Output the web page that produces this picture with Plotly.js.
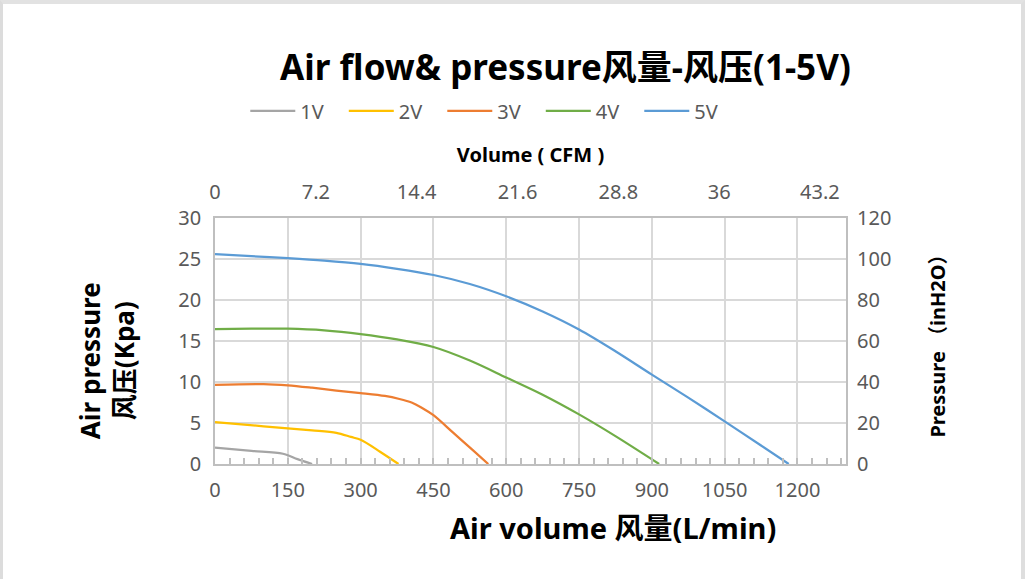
<!DOCTYPE html>
<html>
<head>
<meta charset="utf-8">
<script src="https://cdn.plot.ly/plotly-3.0.1.min.js"></script>
<style>
  html, body { margin: 0; padding: 0; background: #fff; }
  #wrap { position: relative; width: 1025px; height: 579px; }
  #frame { position: absolute; left: 0; top: 0; width: 1025px; height: 579px; box-sizing: border-box;
           border-top: 4px solid #e2e2e2; border-left: 3px solid #dcdcdc; border-right: 4px solid #dedede;
           pointer-events: none; }
</style>
</head>
<body>
<div id="wrap">
  <div id="chart" style="width:1025px;height:579px;"></div>
  <div id="frame"></div>
</div>
<script>
// Air volume (L/min) and pressure (kPa) per supply voltage
const seriesNames = ["1V", "2V", "3V", "4V", "5V"];
const flow1V = [0, 75, 140, 170, 200];
const pres1V = [2.0, 1.6, 1.25, 0.6, 0];
const flow2V = [0, 100, 150, 200, 250, 280, 300, 340, 378];
const pres2V = [5.1, 4.6, 4.35, 4.1, 3.8, 3.3, 2.95, 1.5, 0];
const flow3V = [0, 100, 150, 200, 250, 300, 350, 380, 405, 425, 450, 490, 530, 563];
const pres3V = [9.65, 9.75, 9.6, 9.3, 8.95, 8.65, 8.3, 7.93, 7.5, 6.9, 5.95, 3.85, 1.75, 0];
const flow4V = [0, 75, 150, 225, 300, 375, 450, 525, 600, 675, 750, 825, 915];
const pres4V = [16.45, 16.5, 16.5, 16.3, 15.85, 15.2, 14.27, 12.62, 10.55, 8.45, 6.05, 3.4, 0];
const flow5V = [0, 75, 150, 225, 300, 375, 450, 525, 600, 675, 750, 825, 900, 975, 1050, 1125, 1182];
const pres5V = [25.6, 25.35, 25.1, 24.8, 24.4, 23.8, 23.05, 21.95, 20.45, 18.6, 16.4, 13.75, 10.9, 8.1, 5.2, 2.25, 0];
const seriesColors = ["#a5a5a5", "#ffc000", "#ed7d31", "#70ad47", "#5b9bd5"];

const flows = [flow1V, flow2V, flow3V, flow4V, flow5V];
const pressures = [pres1V, pres2V, pres3V, pres4V, pres5V];

const FONT = "Noto Sans, Noto Sans CJK SC, sans-serif";
const TICK_COLOR = "#595959";

const traces = seriesNames.map((name, i) => ({
  type: "scatter",
  mode: "lines",
  name: name,
  x: flows[i],
  y: pressures[i],
  xaxis: "x",
  yaxis: "y",
  line: { color: seriesColors[i], width: 2.25, shape: "spline", smoothing: 0.9 },
  hoverinfo: "x+y+name"
}));
// carrier trace so the secondary (CFM / inH2O) axes are drawn
traces.push({ type: "scatter", mode: "lines", x: [], y: [], xaxis: "x2", yaxis: "y2",
              showlegend: false, hoverinfo: "skip" });

const tickFont = { family: FONT, size: 20, color: TICK_COLOR };
const gridColor = "#d9d9d9";
const lineColor = "#bfbfbf";

const layout = {
  width: 1025,
  height: 579,
  margin: { l: 215, r: 179, t: 218, b: 115 },
  paper_bgcolor: "#ffffff",
  plot_bgcolor: "#ffffff",
  showlegend: true,
  legend: {
    orientation: "h",
    x: 0.048, xanchor: "left",
    y: 1.435, yanchor: "middle",
    font: { family: FONT, size: 20, color: TICK_COLOR },
    entrywidth: 38.5, entrywidthmode: "pixels",
    itemwidth: 45,
    bgcolor: "rgba(0,0,0,0)"
  },
  xaxis: {
    range: [0, 1300],
    tick0: 0, dtick: 150,
    showgrid: true, gridcolor: gridColor, gridwidth: 1.5,
    showline: true, linecolor: lineColor, linewidth: 1.5, mirror: true,
    ticks: "inside", ticklen: 6, tickcolor: lineColor, tickwidth: 1.5,
    minor: { dtick: 30, ticks: "inside", ticklen: 6, tickcolor: lineColor, tickwidth: 1.5, showgrid: false },
    tickfont: tickFont,
    ticklabelstandoff: 7,
    zeroline: false,
    fixedrange: true
  },
  yaxis: {
    range: [0, 30],
    tick0: 0, dtick: 5,
    showgrid: true, gridcolor: gridColor, gridwidth: 1.5,
    showline: true, linecolor: lineColor, linewidth: 1.5, mirror: true,
    ticks: "",
    tickfont: tickFont,
    ticklabelstandoff: 8,
    zeroline: false,
    fixedrange: true
  },
  xaxis2: {
    overlaying: "x", side: "top", anchor: "y",
    range: [0, 45.06],
    tick0: 0, dtick: 7.2,
    showgrid: false, showline: false, zeroline: false,
    ticks: "",
    tickfont: tickFont,
    ticklabelstandoff: 14,
    title: { text: "Volume ( CFM )", font: { family: FONT, size: 20, color: "#000", weight: "bold" }, standoff: 10 },
    fixedrange: true
  },
  yaxis2: {
    overlaying: "y", side: "right", anchor: "x",
    range: [0, 120],
    tick0: 0, dtick: 20,
    showgrid: false, showline: false, zeroline: false,
    ticks: "",
    tickfont: tickFont,
    ticklabelstandoff: 10,
    title: { text: "Pressure （inH2O）", font: { family: FONT, size: 20, color: "#000", weight: "bold" }, standoff: 40 },
    fixedrange: true
  },
  annotations: [
    {
      text: "Air flow& pressure风量-风压(1-5V)",
      xref: "paper", yref: "paper", x: 0.556, y: 1.614, xanchor: "center", yanchor: "middle",
      showarrow: false,
      font: { family: FONT, size: 35, color: "#000", weight: "bold" }
    },
    {
      text: "Air volume 风量(L/min)",
      xref: "paper", yref: "paper", x: 0.631, y: -0.26, xanchor: "center", yanchor: "middle",
      showarrow: false,
      font: { family: FONT, size: 29, color: "#000", weight: "bold" }
    },
    {
      text: "Air pressure<br>风压(Kpa)",
      xref: "paper", yref: "paper", x: -0.172, y: 0.42, xanchor: "center", yanchor: "middle",
      textangle: -90,
      showarrow: false,
      font: { family: FONT, size: 26, color: "#000", weight: "bold" }
    }
  ]
};

Plotly.newPlot("chart", traces, layout, { displayModeBar: false, responsive: false });
</script>
</body>
</html>
